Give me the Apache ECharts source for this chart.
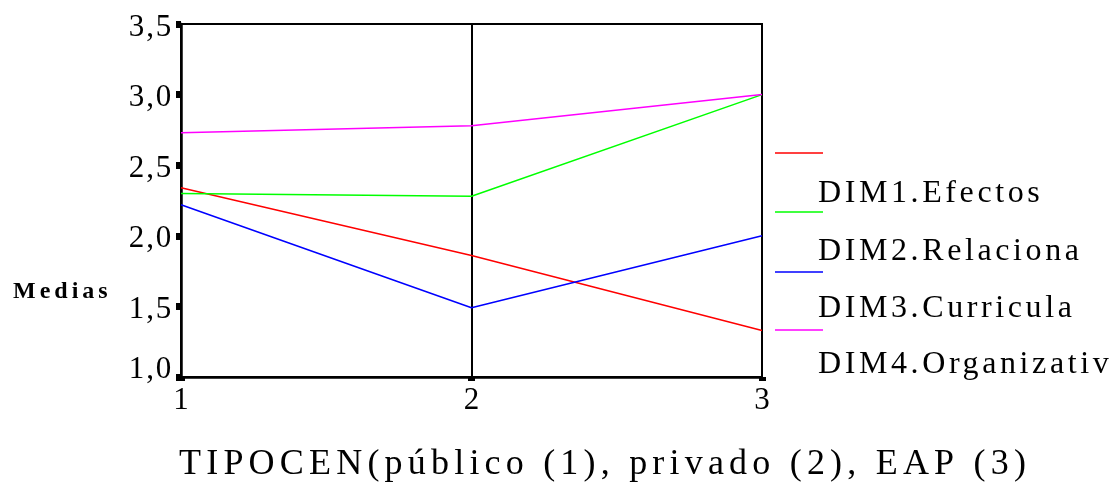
<!DOCTYPE html>
<html><head><meta charset="utf-8">
<script src="https://cdn.jsdelivr.net/npm/echarts@6/dist/echarts.min.js"></script>
<style>
html,body{margin:0;padding:0;background:#fff;}
#c{width:1113px;height:486px;}
</style></head><body><div id="c"></div>
<script>
const categories = ['1', '2', '3'];
const seriesNames = ['DIM1.Efectos', 'DIM2.Relaciona', 'DIM3.Curricula', 'DIM4.Organizativ'];
const dim1 = [2.34, 1.86, 1.33];
const dim2 = [2.30, 2.28, 3.00];
const dim3 = [2.22, 1.49, 2.00];
const dim4 = [2.73, 2.78, 3.00];
const seriesColors = ['#ff0000', '#00ff00', '#0000ff', '#ff00ff'];
const yAxisTitle = 'Medias';
const xAxisTitle = 'TIPOCEN(público (1), privado (2), EAP (3)';

const seriesData = [dim1, dim2, dim3, dim4];
const FONT = "Liberation Serif";

// letter spacing for the SPSS-like wide text
(function () {
  const proto = CanvasRenderingContext2D.prototype;
  const orig = proto.fillText;
  proto.fillText = function (text, x, y, mw) {
    if (!('letterSpacing' in this)) return orig.apply(this, arguments);
    let sp = 0;
    if (text === yAxisTitle) sp = 4;
    else if (text === xAxisTitle) sp = 5.2;
    else if (seriesNames.indexOf(text) >= 0) sp = 3.6;
    else if (/^\d,\d$/.test(text)) sp = 1.8;
    const prev = this.letterSpacing;
    this.letterSpacing = sp + 'px';
    const r = mw === undefined ? orig.call(this, text, x, y) : orig.call(this, text, x, y, mw);
    this.letterSpacing = prev;
    return r;
  };
})();

const chart = echarts.init(document.getElementById('c'), null, { renderer: 'canvas' });

const legendLineY = [153, 212, 272, 330];
const legendTextY = [194, 252, 309, 365];
const graphics = [];
seriesNames.forEach((n, i) => {
  graphics.push({
    type: 'line', shape: { x1: 775, y1: legendLineY[i], x2: 823, y2: legendLineY[i] },
    style: { stroke: seriesColors[i], lineWidth: 1.5 }, silent: true
  });
  graphics.push({
    type: 'text', x: 818, y: legendTextY[i],
    style: { text: n, fontFamily: FONT, fontSize: 32, fill: '#000', align: 'left', verticalAlign: 'middle' }
  });
});
graphics.push({
  type: 'text', x: 179, y: 465,
  style: { text: xAxisTitle, fontFamily: FONT, fontSize: 36, fill: '#000', align: 'left', verticalAlign: 'middle' }
});
graphics.push({
  type: 'text', x: 13, y: 292,
  style: { text: yAxisTitle, fontFamily: FONT, fontSize: 24, fontWeight: 'bold', fill: '#000', align: 'left', verticalAlign: 'middle' }
});

chart.setOption({
  animation: false,
  backgroundColor: '#fff',
  grid: { left: 181, top: 24, width: 581, height: 353, show: true, borderColor: '#000', borderWidth: 2, backgroundColor: 'transparent' },
  xAxis: {
    type: 'category', data: categories, boundaryGap: false,
    axisLine: { lineStyle: { color: '#000', width: 2.5 } },
    axisTick: { show: true, length: 4, lineStyle: { color: '#000', width: 7 } },
    splitLine: { show: true, lineStyle: { color: '#000', width: 2 } },
    axisLabel: { color: '#000', fontFamily: FONT, fontSize: 31, margin: 8 }
  },
  yAxis: {
    type: 'value', min: 1, max: 3.5, interval: 0.5,
    axisLine: { show: true, lineStyle: { color: '#000', width: 2.5 } },
    axisTick: { show: true, length: 5, lineStyle: { color: '#000', width: 7 } },
    splitLine: { show: false },
    axisLabel: {
      color: '#000', fontFamily: FONT, fontSize: 31, margin: 8,
      formatter: v => (v === 1 ? '{low|' : '{v|') + v.toFixed(1).replace('.', ',') + '}',
      rich: {
        v: { fontFamily: FONT, fontSize: 31, color: '#000', padding: [7, 0, 0, 0] },
        low: { fontFamily: FONT, fontSize: 31, color: '#000', padding: [0, 0, 14, 0] }
      }
    }
  },
  series: seriesData.map((d, i) => ({
    name: seriesNames[i], type: 'line', data: d, symbol: 'none',
    lineStyle: { color: seriesColors[i], width: 1.5 }, itemStyle: { color: seriesColors[i] }
  })),
  graphic: graphics
});
</script></body></html>
